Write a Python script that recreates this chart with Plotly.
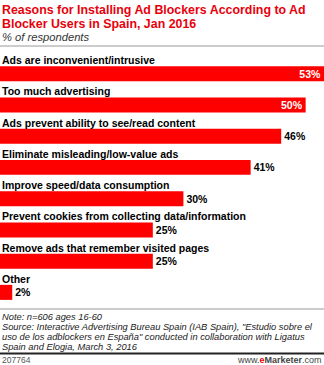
import plotly.graph_objects as go

categories = [
    "Ads are inconvenient/intrusive",
    "Too much advertising",
    "Ads prevent ability to see/read content",
    "Eliminate misleading/low-value ads",
    "Improve speed/data consumption",
    "Prevent cookies from collecting data/information",
    "Remove ads that remember visited pages",
    "Other",
]
values = [53, 50, 46, 41, 30, 25, 25, 2]

title_lines = ["Reasons for Installing Ad Blockers According to Ad",
               "Blocker Users in Spain, Jan 2016"]
subtitle = "% of respondents"
note_lines = [
    "Note: n=606 ages 16-60",
    "Source: Interactive Advertising Bureau Spain (IAB Spain), \"Estudio sobre el",
    "uso de los adblockers en España\" conducted in collaboration with Ligatus",
    "Spain and Elogia, March 3, 2016",
]
chart_id = "207764"

RED = "#ff0000"
FONT = "Liberation Sans, Arial, sans-serif"
W, H = 324, 365
T, B = 58, 57

inside = [v >= 50 for v in values]
fig = go.Figure(go.Bar(
    x=values, y=categories, orientation="h",
    marker=dict(color=RED, line=dict(width=0)),
    text=[f"{v}%" for v in values],
    textposition=["inside" if i else "outside" for i in inside],
    insidetextanchor="end",
    textfont=dict(family=FONT, size=10.5,
                  color=["white" if i else "#000" for i in inside], weight="bold"),
    constraintext="none",
    cliponaxis=False,
    width=0.48,
    hoverinfo="skip",
))

annotations = []
for c in categories:
    annotations.append(dict(
        x=0, xref="paper", y=c, yref="y", yshift=13.5,
        text=f"<b>{c}</b>", showarrow=False, xanchor="left", yanchor="middle",
        font=dict(family=FONT, size=10.5, color="#000"),
    ))

def py(px):
    # pixel from top -> paper coordinate
    return (H - B - px) / (H - T - B)

for i, line in enumerate(title_lines):
    annotations.append(dict(
        x=0, xref="paper", y=py(10 + 14 * i), yref="paper",
        text=f"<b>{line}</b>", showarrow=False, xanchor="left", yanchor="middle",
        font=dict(family=FONT, size=12.4, color="#e8000b"),
    ))
annotations.append(dict(
    x=0, xref="paper", y=py(37), yref="paper",
    text=f"<i>{subtitle}</i>", showarrow=False, xanchor="left", yanchor="middle",
    font=dict(family=FONT, size=11.2, color="#333"),
))
for i, line in enumerate(note_lines):
    annotations.append(dict(
        x=0, xref="paper", y=py(317 + 10 * i), yref="paper",
        text=f"<i>{line}</i>", showarrow=False, xanchor="left", yanchor="middle",
        font=dict(family=FONT, size=9.3, color="#222"),
    ))
annotations.append(dict(
    x=0, xref="paper", y=py(359.5), yref="paper",
    text=chart_id, showarrow=False, xanchor="left", yanchor="middle",
    font=dict(family=FONT, size=8.5, color="#555"),
))
annotations.append(dict(
    x=1, xref="paper", y=py(359.5), yref="paper",
    text="www.<b><span style='color:#e8000b'>e</span>Marketer</b>.com", showarrow=False,
    xanchor="right", yanchor="middle",
    font=dict(family=FONT, size=9, color="#444"),
))

shapes = [
    dict(type="line", xref="paper", yref="paper", x0=0, x1=1, y0=py(46), y1=py(46),
         line=dict(color="#999", width=1)),
    dict(type="line", xref="paper", yref="paper", x0=0, x1=1, y0=py(309), y1=py(309),
         line=dict(color="#999", width=1)),
    dict(type="line", xref="paper", yref="paper", x0=0, x1=1, y0=py(353.5), y1=py(353.5),
         line=dict(color="#222", width=2)),
]

fig.update_layout(
    width=W, height=H,
    margin=dict(l=0, r=0, t=T, b=B, pad=0),
    paper_bgcolor="white", plot_bgcolor="white",
    showlegend=False,
    xaxis=dict(range=[0, 53], visible=False, fixedrange=True),
    yaxis=dict(categoryorder="array", categoryarray=categories,
               range=[len(categories) - 0.5, -0.5], visible=False, fixedrange=True),
    annotations=annotations, shapes=shapes,
)

fig.write_html("out.html", config={"displayModeBar": False})
